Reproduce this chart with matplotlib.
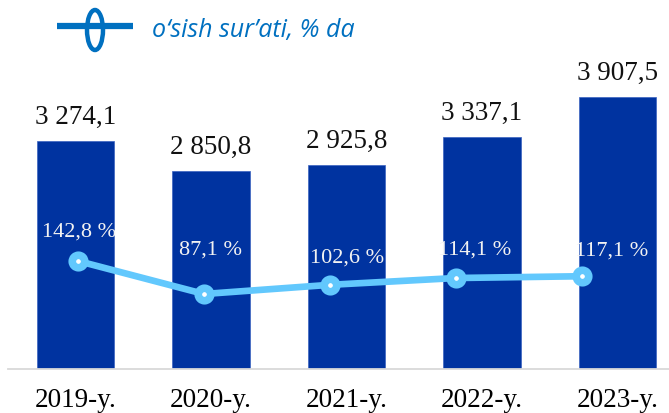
import matplotlib
matplotlib.use("Agg")
import matplotlib.pyplot as plt
from matplotlib.patches import Ellipse
from matplotlib.lines import Line2D
from matplotlib.transforms import blended_transform_factory

# data
years = ["2019-y.", "2020-y.", "2021-y.", "2022-y.", "2023-y."]
volume = [3274.1, 2850.8, 2925.8, 3337.1, 3907.5]
growth = [142.8, 87.1, 102.6, 114.1, 117.1]
legendText = "o\u2018sish sur\u2019ati, % da"

# styles
barColor = "#0033A0"
lineColor = "#62C8FD"
legendColor = "#0070C0"
serif = "Liberation Serif"

# label offsets (pixels) for the growth labels: dx, dy of baseline
pctDx = [4, -0.5, 1, -7, -5.5]
pctDy = [25, 40, 23, 24, 22]

W, H = 669, 414
fig = plt.figure(figsize=(W / 100, H / 100), dpi=100)

rect = [8 / W, (H - 370) / H, 661 / W, 370 / H]
ax = fig.add_axes(rect)
x = list(range(len(years)))
ax.bar(x, volume, width=0.57, color=barColor, edgecolor="#3A62C0", linewidth=0.5, zorder=2)
ax.set_xlim(-0.498, 4.38)
ax.set_ylim(0, 5316)
for s in ["top", "left", "right"]:
    ax.spines[s].set_visible(False)
ax.spines["bottom"].set_color("#D9D9D9")
ax.spines["bottom"].set_linewidth(1.3)
ax.set_yticks([])
ax.set_xticks(x)
ax.set_xticklabels(years, fontfamily=serif, fontsize=19.5)
ax.tick_params(axis="x", length=0, pad=13)

for i, v in enumerate(volume):
    txt = f"{v:,.1f}".replace(",", " ").replace(".", ",")
    ax.annotate(txt, xy=(i, v), xytext=(0, 18), textcoords="offset pixels",
                ha="center", va="baseline", fontfamily=serif, fontsize=19.5, color="#111111")

# growth line on its own axes (shifted x scale like the original)
ax2 = fig.add_axes(rect, frameon=False)
ax2.plot(x, growth, color=lineColor, linewidth=4.8, marker="o", markersize=9,
         markerfacecolor="white", markeredgecolor=lineColor, markeredgewidth=5.5,
         solid_capstyle="round", zorder=3)
ax2.set_xlim(-0.556, 4.69)
ax2.set_ylim(-39.6, 585.4)
ax2.axis("off")

blend = blended_transform_factory(ax.transData, ax2.transData)
for i, g in enumerate(growth):
    txt = f"{g:.1f} %".replace(".", ",")
    ax2.annotate(txt, xy=(i, g), xycoords=blend, xytext=(pctDx[i], pctDy[i]),
                 textcoords="offset pixels", ha="center", va="baseline",
                 fontfamily=serif, fontsize=16, color="#F2F2F2", annotation_clip=False)

# legend drawn by hand at the top
fig.add_artist(Line2D([57 / W, 133 / W], [1 - 27 / H, 1 - 27 / H], transform=fig.transFigure,
                      color=legendColor, linewidth=4.5, solid_capstyle="butt"))
fig.add_artist(Ellipse((95 / W, 1 - 31 / H), 16 / W, 40 / H, transform=fig.transFigure,
                       facecolor="white", edgecolor=legendColor, linewidth=3.2))
fig.text(152 / W, 1 - 37 / H, legendText, fontfamily="Open Sans", style="italic",
         fontsize=18, color=legendColor, ha="left", va="baseline")

fig.savefig("out.png", dpi=100)
